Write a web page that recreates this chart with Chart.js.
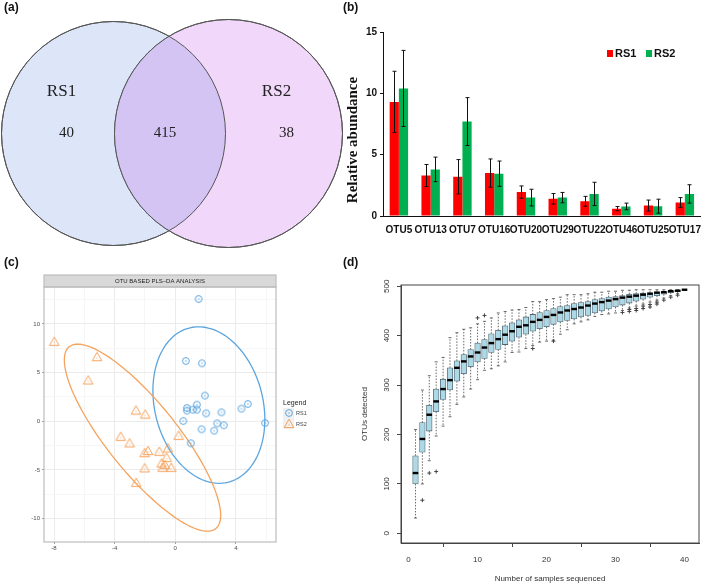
<!DOCTYPE html>
<html><head><meta charset="utf-8">
<script src="https://cdn.jsdelivr.net/npm/chart.js@4.4.1/dist/chart.umd.min.js"></script>
<style>
html,body{margin:0;padding:0;background:#fff;width:709px;height:586px;overflow:hidden}
canvas{position:absolute;left:0;top:0}
</style></head><body>
<canvas id="ca" width="709" height="586"></canvas>
<canvas id="cb" width="709" height="586"></canvas>
<canvas id="cc" width="709" height="586"></canvas>
<canvas id="cd" width="709" height="586"></canvas>
<script>
// ---------- DATA ----------
// (a) Venn
const vennSets = ['RS1', 'RS2'];
const vennCounts = [40, 415, 38]; // RS1 only, shared, RS2 only

// (b) relative abundance
const otuLabels = ['OTU5','OTU13','OTU7','OTU16','OTU20','OTU29','OTU22','OTU46','OTU25','OTU17'];
const rs1Abund = [9.3, 3.3, 3.2, 3.5, 1.95, 1.4, 1.2, 0.6, 0.85, 1.1];
const rs2Abund = [10.4, 3.8, 7.7, 3.45, 1.5, 1.5, 1.8, 0.78, 0.8, 1.8];
const rs1Err = [2.5, 0.9, 1.4, 1.15, 0.5, 0.43, 0.4, 0.17, 0.45, 0.4];
const rs2Err = [3.1, 1.0, 1.95, 1.03, 0.68, 0.42, 0.95, 0.27, 0.57, 0.75];

// (c) PLS-DA scores
const rs1X = [1.54, 0.70, 1.76, 1.96, 1.43, 0.77, 0.77, 1.16, 1.43, 2.04, 3.05, 4.37, 4.79, 0.53, 2.77, 3.21, 5.93, 1.74, 2.57, 1.03];
const rs1Y = [12.57, 6.2, 5.96, 2.64, 1.71, 1.37, 1.1, 1.2, 1.2, 0.82, 0.92, 1.3, 1.78, 0.03, -0.21, -0.41, -0.17, -0.82, -0.96, -2.26];
const rs2X = [-7.98, -5.16, -5.74, -2.59, -1.98, -3.6, -3.01, -2.02, -1.8, -1.05, -0.48, -0.57, -0.9, -0.68, -0.84, -0.26, -2.02, 0.22, -2.57];
const rs2Y = [8.22, 6.64, 4.25, 1.16, 0.75, -1.54, -2.22, -3.22, -3.01, -3.08, -2.74, -3.7, -4.28, -4.45, -4.72, -4.72, -4.79, -1.44, -6.27];
// ellipse: centre x, centre y, conjugate half-axis u (x,y), conjugate half-axis v (x,y), data units
const ellipseRS1 = [2.22, 1.67, 3.63, 0, -0.68, 8.04];
const ellipseRS2 = [-2.16, -1.68, 2.88, 0, -4.28, 9.61];

// (d) rarefaction boxplots
const nSamples = Array.from({length: 40}, (_, i) => i + 1);
const boxQ1  = [100,164,207,246,271,290,308,323,337,347,354,366,372,382,389,397,403,409,414,418,423,428,431,434,438,441,446,450,454,458,462,466,470,474,478,481,484,487,489,493];
const boxMed = [122,191,240,267,292,310,335,348,358,366,376,385,393,402,409,418,421,428,432,438,442,447,451,454,457,461,465,468,471,474,477,479,481,483,485,487,488,490,491,493];
const boxQ3  = [157,224,259,292,312,335,349,362,372,385,392,404,411,420,426,432,438,443,447,451,455,459,461,465,467,469,473,475,478,479,481,484,485,486,487,489,489,490,492,493];
const boxLo  = [31,100,147,197,217,236,261,276,292,311,330,333,339,347,366,367,374,380,387,389,391,403,412,424,428,432,439,443,444,446,451,456,460,464,468,472,476,481,485,493];
const boxHi  = [210,290,319,347,356,396,406,413,416,424,429,436,446,449,452,453,457,469,469,473,475,478,483,483,483,485,488,488,490,490,492,492,493,493,493,493,493,493,493,493];
const outX = [2, 3, 4, 10, 11, 18, 21, 31, 32, 32, 33, 33, 34, 34, 35, 35, 36, 36, 37, 38, 39];
const outY = [67, 122, 125, 436, 441, 374, 389, 447, 453, 449, 455, 451, 460, 455, 463, 458, 468, 464, 472, 478, 482];

// ---------- STYLE ----------
const SANS = "'Liberation Sans', Arial, sans-serif";
const SERIF = "'Liberation Serif', 'Times New Roman', serif";
Chart.defaults.font.family = SANS;
Chart.defaults.animation = false;
Chart.defaults.responsive = false;
Chart.defaults.events = [];
Chart.defaults.layout.autoPadding = false;
Chart.defaults.plugins.legend.display = false;
Chart.defaults.plugins.tooltip.enabled = false;

// ---------- (a) Venn ----------
const vennColors = ['rgb(221,230,249)', 'rgb(241,216,250)'];
const vennOverlap = 'rgb(212,196,244)';
const vennPlugin = {
  id: 'venn',
  afterDatasetsDraw(chart) {
    const ctx = chart.ctx;
    const els = chart.getDatasetMeta(0).data;
    const ds = chart.data.datasets[0].data;
    const a = els[0], b = els[1];
    const ra = ds[0].r, rb = ds[1].r;
    ctx.save();
    ctx.beginPath(); ctx.arc(a.x, a.y, ra, 0, Math.PI * 2); ctx.clip();
    ctx.beginPath(); ctx.arc(b.x, b.y, rb, 0, Math.PI * 2);
    ctx.fillStyle = vennOverlap; ctx.fill();
    ctx.restore();
    ctx.save();
    ctx.strokeStyle = '#555'; ctx.lineWidth = 1;
    ctx.beginPath(); ctx.arc(a.x, a.y, ra, 0, Math.PI * 2); ctx.stroke();
    ctx.beginPath(); ctx.arc(b.x, b.y, rb, 0, Math.PI * 2); ctx.stroke();
    ctx.fillStyle = '#222'; ctx.textAlign = 'center'; ctx.textBaseline = 'middle';
    ctx.font = `17px ${SERIF}`;
    ctx.fillText(vennSets[0], a.x - 52, a.y - 42);
    ctx.fillText(vennSets[1], b.x + 48, b.y - 42);
    ctx.font = `15px ${SERIF}`;
    const lens = ((a.x + ra) + (b.x - rb)) / 2;
    ctx.fillText(String(vennCounts[0]), a.x - 47, a.y);
    ctx.fillText(String(vennCounts[1]), lens - 5, a.y);
    ctx.fillText(String(vennCounts[2]), b.x + 58, b.y);
    // panel letters
    ctx.font = `bold 12px ${SANS}`; ctx.fillStyle = '#111'; ctx.textAlign = 'left';
    ctx.fillText('(a)', 4, 8);
    ctx.fillText('(b)', 343, 8);
    ctx.fillText('(c)', 4, 263);
    ctx.fillText('(d)', 343, 263);
    ctx.restore();
  }
};
new Chart(document.getElementById('ca'), {
  type: 'bubble',
  data: { datasets: [{
    label: 'Venn',
    data: [{x: 113.5, y: 133.5, r: 112}, {x: 228.5, y: 133.5, r: 114}],
    backgroundColor: vennColors, borderColor: '#555', borderWidth: 1, clip: false
  }]},
  options: {
    layout: {padding: 0, autoPadding: false},
    scales: {
      x: {type: 'linear', display: false, min: 0, max: 709},
      y: {type: 'linear', display: false, min: 0, max: 586, reverse: true}
    }
  },
  plugins: [vennPlugin]
});

// ---------- (b) bars ----------
const errPlugin = {
  id: 'err',
  afterDatasetsDraw(chart) {
    const ctx = chart.ctx, ys = chart.scales.y;
    const errs = [rs1Err, rs2Err];
    ctx.save();
    ctx.strokeStyle = '#111'; ctx.lineWidth = 1;
    chart.data.datasets.forEach((ds, di) => {
      chart.getDatasetMeta(di).data.forEach((el, i) => {
        const v = ds.data[i], e = errs[di][i];
        const y1 = ys.getPixelForValue(v + e), y2 = ys.getPixelForValue(v - e);
        const x = Math.round(el.x) + 0.5;
        ctx.beginPath();
        ctx.moveTo(x, y1); ctx.lineTo(x, y2);
        ctx.moveTo(x - 2, y1); ctx.lineTo(x + 2, y1);
        ctx.moveTo(x - 2, y2); ctx.lineTo(x + 2, y2);
        ctx.stroke();
      });
    });
    // legend
    ctx.font = `bold 11px ${SANS}`; ctx.textBaseline = 'middle'; ctx.textAlign = 'left'; ctx.fillStyle = '#111';
    const lx = [607, 646];
    chart.data.datasets.forEach((ds, di) => {
      ctx.fillStyle = ds.backgroundColor;
      ctx.fillRect(lx[di], 50, 6, 7);
      ctx.fillStyle = '#111';
      ctx.fillText(ds.label, lx[di] + 8, 54);
    });
    // y title
    ctx.save();
    ctx.translate(353, 140); ctx.rotate(-Math.PI / 2);
    ctx.textAlign = 'center'; ctx.font = `bold 15px ${SERIF}`; ctx.fillStyle = '#111';
    ctx.fillText('Relative abundance', 0, 0);
    ctx.restore();
    ctx.restore();
  }
};
new Chart(document.getElementById('cb'), {
  type: 'bar',
  data: { labels: otuLabels, datasets: [
    {label: 'RS1', data: rs1Abund, backgroundColor: '#ff0000'},
    {label: 'RS2', data: rs2Abund, backgroundColor: '#00b050'}
  ]},
  options: {
    layout: {padding: {left: 363, right: 1, top: 32, bottom: 336}},
    datasets: {bar: {categoryPercentage: 0.58, barPercentage: 1}},
    scales: {
      x: {
        grid: {display: false, drawTicks: false}, border: {color: '#111', width: 1},
        ticks: {font: {size: 10, weight: 'bold'}, color: '#111', maxRotation: 0, autoSkip: false, padding: 8},
        afterFit(s) { s.height = 34; }
      },
      y: {
        min: 0, max: 15,
        ticks: {stepSize: 5, font: {size: 10, weight: 'bold'}, color: '#111', padding: 3},
        grid: {drawOnChartArea: false, drawTicks: true, tickLength: 3, color: '#111'},
        border: {color: '#111', width: 1},
        afterFit(s) { s.width = 20; }
      }
    }
  },
  plugins: [errPlugin]
});

// ---------- (c) PLS-DA ----------
const blue = '#5ba5df', orange = '#f5a35e';
function makeCircle(color) {
  const c = document.createElement('canvas'); c.width = 10; c.height = 10;
  const g = c.getContext('2d');
  g.strokeStyle = color; g.lineWidth = 1;
  g.beginPath(); g.arc(5, 5, 3.4, 0, Math.PI * 2); g.stroke();
  g.fillStyle = color; g.beginPath(); g.arc(5, 5, 0.7, 0, Math.PI * 2); g.fill();
  return c;
}
function makeTri(color) {
  const c = document.createElement('canvas'); c.width = 12; c.height = 11;
  const g = c.getContext('2d');
  g.strokeStyle = color; g.lineWidth = 1;
  g.beginPath(); g.moveTo(6, 1.2); g.lineTo(10.8, 9.6); g.lineTo(1.2, 9.6); g.closePath(); g.stroke();
  g.fillStyle = color; g.beginPath(); g.arc(6, 6.8, 0.6, 0, Math.PI * 2); g.fill();
  return c;
}
const circImg = makeCircle(blue), triImg = makeTri(orange);
const plsPlugin = {
  id: 'pls',
  beforeDatasetsDraw(chart) {
    const ctx = chart.ctx, xs = chart.scales.x, ys = chart.scales.y;
    ctx.save();
    ctx.lineWidth = 1.3;
    [[ellipseRS1, blue], [ellipseRS2, orange]].forEach(([e, col]) => {
      const [cx, cy, ux, uy, vx, vy] = e;
      const px = xs.getPixelForValue(cx), py = ys.getPixelForValue(cy);
      const pux = xs.getPixelForValue(cx + ux) - px, puy = ys.getPixelForValue(cy + uy) - py;
      const pvx = xs.getPixelForValue(cx + vx) - px, pvy = ys.getPixelForValue(cy + vy) - py;
      ctx.strokeStyle = col;
      ctx.beginPath();
      for (let k = 0; k <= 120; k++) {
        const t = k / 120 * Math.PI * 2;
        const X = px + pux * Math.cos(t) + pvx * Math.sin(t);
        const Y = py + puy * Math.cos(t) + pvy * Math.sin(t);
        if (k === 0) ctx.moveTo(X, Y); else ctx.lineTo(X, Y);
      }
      ctx.stroke();
    });
    ctx.restore();
  },
  afterDraw(chart) {
    const ctx = chart.ctx, a = chart.chartArea;
    ctx.save();
    // title strip
    ctx.fillStyle = '#d9d9d9';
    ctx.fillRect(a.left, 275, a.right - a.left, a.top - 275);
    ctx.strokeStyle = '#bdbdbd'; ctx.lineWidth = 1.2;
    ctx.strokeRect(a.left, 275, a.right - a.left, a.top - 275);
    ctx.fillStyle = '#222'; ctx.font = `6px ${SANS}`; ctx.textAlign = 'center'; ctx.textBaseline = 'middle';
    ctx.fillText('OTU BASED PLS\u2013DA ANALYSIS', (a.left + a.right) / 2, (275 + a.top) / 2 + 0.5);
    // panel border
    ctx.strokeRect(a.left, a.top, a.right - a.left, a.bottom - a.top);
    // legend
    ctx.fillStyle = '#222'; ctx.font = `7px ${SANS}`; ctx.textAlign = 'left';
    ctx.fillText('Legend', 283, 403);
    ctx.fillStyle = '#f0f0f0';
    ctx.fillRect(283, 408, 11, 21);
    ctx.drawImage(circImg, 289 - 5, 413 - 5);
    ctx.drawImage(triImg, 289 - 6, 424 - 6);
    ctx.fillStyle = '#444'; ctx.font = `5.5px ${SANS}`;
    ctx.fillText(chart.data.datasets[0].label, 296, 413);
    ctx.fillText(chart.data.datasets[1].label, 296, 424);
    ctx.restore();
  }
};
new Chart(document.getElementById('cc'), {
  type: 'scatter',
  data: { datasets: [
    {label: 'RS1', data: rs1X.map((x, i) => ({x, y: rs1Y[i]})), pointStyle: circImg, radius: 4},
    {label: 'RS2', data: rs2X.map((x, i) => ({x, y: rs2Y[i]})), pointStyle: triImg, radius: 5}
  ]},
  options: {
    layout: {padding: {left: 0, right: 433, top: 287, bottom: 30}},
    scales: {
      x: {
        min: -8.66, max: 6.65,
        ticks: {stepSize: 2, includeBounds: false, font: {size: 6}, color: '#4d4d4d', padding: 1,
          callback: (v) => (v % 4 === 0 ? String(v) : '')},
        grid: {
          color: (c) => (c.tick && c.tick.value % 4 === 0 ? '#ebebeb' : '#f6f6f6'),
          tickColor: (c) => (c.tick && c.tick.value % 4 === 0 ? '#999' : 'rgba(0,0,0,0)'),
          tickLength: 2
        },
        border: {display: false},
        afterFit(s) { s.height = 14; }
      },
      y: {
        min: -12.4, max: 13.8,
        ticks: {stepSize: 2.5, includeBounds: false, font: {size: 6}, color: '#4d4d4d', padding: 2,
          callback: (v) => (v % 5 === 0 ? String(v) : '')},
        grid: {
          color: (c) => (c.tick && c.tick.value % 5 === 0 ? '#ebebeb' : '#f6f6f6'),
          tickColor: (c) => (c.tick && c.tick.value % 5 === 0 ? '#999' : 'rgba(0,0,0,0)'),
          tickLength: 2
        },
        border: {display: false},
        afterFit(s) { s.width = 44; }
      }
    }
  },
  plugins: [plsPlugin]
});

// ---------- (d) rarefaction ----------
const boxPlugin = {
  id: 'box',
  beforeDatasetsDraw(chart) {
    const ctx = chart.ctx, xs = chart.scales.x, ys = chart.scales.y;
    ctx.save();
    ctx.strokeStyle = '#444'; ctx.lineWidth = 0.8;
    nSamples.forEach((n, i) => {
      const x = xs.getPixelForValue(n);
      const yl = ys.getPixelForValue(boxLo[i]), yq1 = ys.getPixelForValue(boxQ1[i]);
      const yq3 = ys.getPixelForValue(boxQ3[i]), yh = ys.getPixelForValue(boxHi[i]);
      ctx.setLineDash([1.5, 1.5]);
      ctx.beginPath(); ctx.moveTo(x, yq1); ctx.lineTo(x, yl); ctx.moveTo(x, yq3); ctx.lineTo(x, yh); ctx.stroke();
      ctx.setLineDash([]);
      ctx.beginPath(); ctx.moveTo(x - 1.5, yl); ctx.lineTo(x + 1.5, yl); ctx.moveTo(x - 1.5, yh); ctx.lineTo(x + 1.5, yh); ctx.stroke();
    });
    ctx.restore();
  },
  afterDatasetsDraw(chart) {
    const ctx = chart.ctx, xs = chart.scales.x, ys = chart.scales.y;
    ctx.save();
    ctx.strokeStyle = '#000'; ctx.lineWidth = 2.4;
    nSamples.forEach((n, i) => {
      const x = xs.getPixelForValue(n), y = ys.getPixelForValue(boxMed[i]);
      ctx.beginPath(); ctx.moveTo(x - 2.8, y); ctx.lineTo(x + 2.8, y); ctx.stroke();
    });
    const a = chart.chartArea;
    ctx.strokeStyle = '#444'; ctx.lineWidth = 1;
    ctx.strokeRect(a.left, a.top, a.right - a.left, a.bottom - a.top);
    ctx.restore();
  }
};
new Chart(document.getElementById('cd'), {
  type: 'bar',
  data: { datasets: [
    {type: 'bar', label: 'OTUs detected', data: nSamples.map((n, i) => ({x: n, y: [boxQ1[i], boxQ3[i]]})),
     backgroundColor: '#add8e6', borderColor: '#4f6670', borderWidth: 0.8, borderSkipped: false, barThickness: 5.6},
    {type: 'scatter', label: 'outliers', data: outX.map((x, i) => ({x, y: outY[i]})),
     pointStyle: 'cross', radius: 2, borderColor: '#444', borderWidth: 1}
  ]},
  options: {
    layout: {padding: {left: 360, right: 10, top: 285, bottom: 2}},
    scales: {
      x: {
        type: 'linear', offset: false, min: -1.1, max: 42.1,
        ticks: {stepSize: 10, includeBounds: false, font: {size: 8}, color: '#333', padding: 8, maxRotation: 0},
        grid: {drawOnChartArea: false, drawTicks: true, tickLength: 4, color: '#444'},
        border: {color: '#444'},
        title: {display: true, text: 'Number of samples sequenced', font: {size: 8}, color: '#333', padding: 0},
        afterFit(s) { s.height = 41; }
      },
      y: {
        min: -19.6, max: 502.6,
        ticks: {stepSize: 100, includeBounds: false, font: {size: 8}, color: '#333', padding: 4,
          minRotation: 90, maxRotation: 90, crossAlign: 'center'},
        grid: {drawOnChartArea: false, drawTicks: true, tickLength: 4, color: '#444'},
        border: {color: '#444'},
        title: {display: true, text: 'OTUs detected', font: {size: 8}, color: '#333', padding: 0},
        afterFit(s) { s.width = 41; }
      }
    }
  },
  plugins: [boxPlugin]
});
</script>
</body></html>
